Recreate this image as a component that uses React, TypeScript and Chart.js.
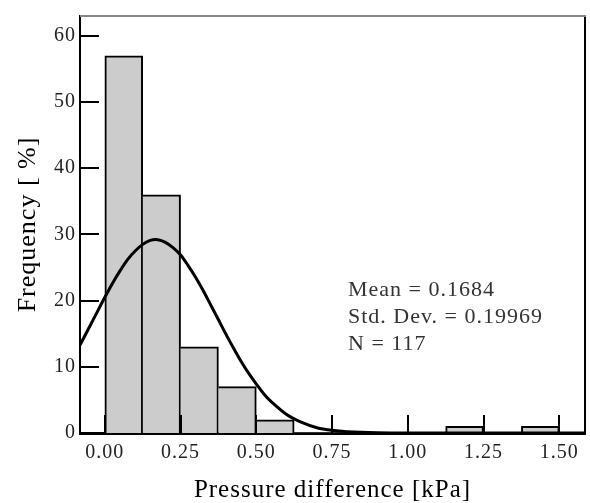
import React, { useEffect, useRef } from "react";
import { Chart, registerables } from "chart.js";

Chart.register(...registerables);

// Histogram bins (lower edges, kPa) and counts
const binLower = [0, 0.125, 0.25, 0.375, 0.5, 0.625, 0.75, 0.875, 1.0, 1.125, 1.25, 1.375];
const binWidth = 0.125;
const counts = [57, 36, 13, 7, 2, 0, 0, 0, 0, 1, 0, 1];

// Fitted curve
const curveX = [-0.1, -0.075, -0.05, -0.025, 0.0, 0.025, 0.05, 0.075, 0.1, 0.125, 0.15, 0.175, 0.2, 0.225, 0.25, 0.275, 0.3, 0.325, 0.35, 0.375, 0.4, 0.425, 0.45, 0.475, 0.5, 0.525, 0.55, 0.6, 0.65, 0.7, 0.75, 0.8, 0.9, 1.0, 1.6];
const curveY = [11.8, 13.9, 16.1, 18.3, 20.5, 22.6, 24.5, 26.2, 27.5, 28.5, 29.1, 29.2, 28.8, 28.0, 26.9, 25.3, 23.5, 21.5, 19.3, 17.1, 14.9, 12.8, 10.8, 9.0, 7.4, 5.9, 4.7, 2.8, 1.6, 0.8, 0.4, 0.2, 0.04, 0, 0];

const xTicks = [0, 0.25, 0.5, 0.75, 1.0, 1.25, 1.5];
const yTicks = [0, 10, 20, 30, 40, 50, 60];

const statsLines = ["Mean = 0.1684", "Std. Dev. = 0.19969", "N = 117"];

const FONT = "'Liberation Serif', 'Times New Roman', serif";

export default function App() {
  const ref = useRef<HTMLCanvasElement | null>(null);

  useEffect(() => {
    document.body.style.margin = "0";
    const canvas = ref.current!;
    const framePlugin = {
      id: "frame",
      beforeLayout(chart: any) {
        chart.ctx.letterSpacing = "1px";
      },
      beforeDraw(chart: any) {
        chart.ctx.letterSpacing = "1px";
      },
      afterDatasetsDraw(chart: any) {
        const { ctx, chartArea } = chart;
        const xs = chart.scales.x;
        const ys = chart.scales.y;
        ctx.save();
        ctx.strokeStyle = "#000";
        ctx.lineWidth = 2;
        // y ticks inside
        for (const v of yTicks) {
          const py = Math.round(ys.getPixelForValue(v));
          if (v === 0) continue;
          ctx.beginPath();
          ctx.moveTo(chartArea.left, py);
          ctx.lineTo(chartArea.left + 19, py);
          ctx.stroke();
        }
        // x ticks inside
        for (const v of xTicks) {
          const px = Math.round(xs.getPixelForValue(v));
          ctx.beginPath();
          ctx.moveTo(px, chartArea.bottom);
          ctx.lineTo(px, chartArea.bottom - 18);
          ctx.stroke();
        }
        // right border
        ctx.beginPath();
        ctx.moveTo(chartArea.right, chartArea.top);
        ctx.lineTo(chartArea.right, chartArea.bottom);
        ctx.stroke();
        // top border
        ctx.strokeStyle = "#888";
        ctx.beginPath();
        ctx.moveTo(chartArea.left, chartArea.top);
        ctx.lineTo(chartArea.right + 1, chartArea.top);
        ctx.stroke();
        // stats text
        ctx.fillStyle = "#333";
        ctx.font = `22px ${FONT}`;
        ctx.textBaseline = "middle";
        ctx.textAlign = "left";
        statsLines.forEach((s, i) => {
          ctx.fillText(s, chartArea.left + 268, chartArea.top + 274 + i * 27);
        });
        ctx.restore();
      },
    };

    const chart = new Chart(canvas, {
      type: "bar",
      data: {
        datasets: [
          {
            type: "line",
            data: curveX.map((x, i) => ({ x, y: curveY[i] })),
            borderColor: "#000",
            borderWidth: 3,
            pointRadius: 0,
            fill: false,
            tension: 0.3,
            order: 0,
          } as any,
          {
            type: "bar",
            data: binLower.map((x, i) => ({ x: x + binWidth / 2, y: counts[i] })),
            backgroundColor: "#cccccc",
            borderColor: "#000",
            borderWidth: (c: any) => {
              const i = c.dataIndex;
              if (counts[i] === 0) return 0;
              const prev = i > 0 ? counts[i - 1] : 0;
              return { top: 2, right: 2, bottom: 0, left: prev === 0 ? 2 : 0 };
            },
            borderSkipped: false,
            barPercentage: 1,
            categoryPercentage: 1,
            order: 1,
          } as any,
        ],
      },
      options: {
        responsive: false,
        animation: false,
        layout: { padding: { left: 0, top: 10, right: 5, bottom: 0 } },
        plugins: { legend: { display: false }, tooltip: { enabled: false } },
        scales: {
          x: {
            type: "linear",
            min: -0.082,
            max: 1.585,
            offset: false,
            grid: { display: false, drawTicks: false },
            border: { display: true, color: "#000", width: 3 },
            afterBuildTicks: (s: any) => {
              s.ticks = xTicks.map((v) => ({ value: v }));
            },
            afterFit: (s: any) => {
              s.height = 70;
            },
            ticks: {
              padding: 8,
              color: "#222",
              font: { family: FONT, size: 20 },
              maxRotation: 0,
              autoSkip: false,
              callback: (v: any) => Number(v).toFixed(2),
            },
            title: {
              display: true,
              text: "Pressure difference [kPa]",
              color: "#000",
              font: { family: FONT, size: 25, lineHeight: 1 },
              padding: { top: 0, bottom: 0 },
            },
          },
          y: {
            type: "linear",
            min: 0,
            max: 63,
            grid: { display: false, drawTicks: false },
            border: { display: true, color: "#000", width: 2 },
            afterBuildTicks: (s: any) => {
              s.ticks = yTicks.map((v) => ({ value: v }));
            },
            afterFit: (s: any) => {
              s.width = 80;
            },
            ticks: {
              padding: 4,
              color: "#222",
              font: { family: FONT, size: 20 },
              autoSkip: false,
            },
            title: {
              display: true,
              text: "Frequency [ %]",
              color: "#000",
              font: { family: FONT, size: 26, lineHeight: 1 },
              padding: { top: 15, bottom: 0 },
            },
          },
        },
      },
      plugins: [framePlugin],
    });
    return () => chart.destroy();
  }, []);

  return (
    <div style={{ position: "absolute", left: 0, top: 0, width: 590, height: 503, background: "#fff" }}>
      <canvas ref={ref} width={590} height={503} />
    </div>
  );
}
